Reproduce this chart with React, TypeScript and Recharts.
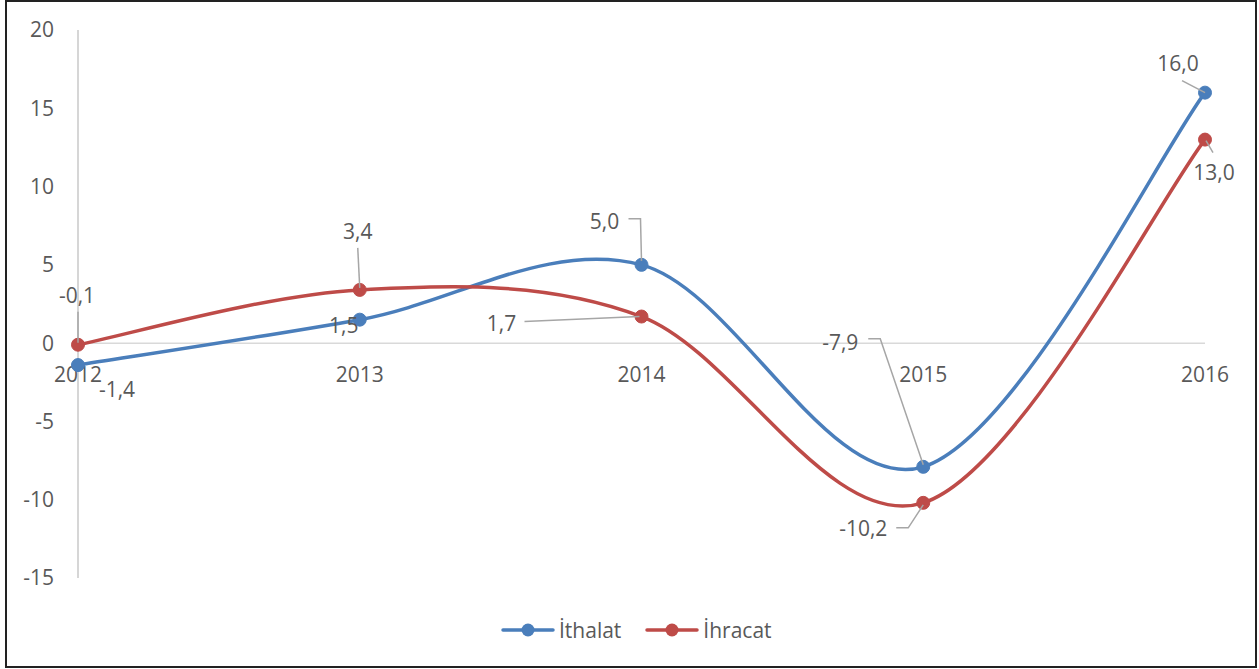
import React from 'react';
import { LineChart, Line, XAxis, YAxis, ReferenceLine, ReferenceDot, LabelList } from 'recharts';

const categories = ['2012', '2013', '2014', '2015', '2016'];
const ithalat = [-1.4, 1.5, 5.0, -7.9, 16.0];
const ihracat = [-0.1, 3.4, 1.7, -10.2, 13.0];
const yTicks = [-15, -10, -5, 0, 5, 10, 15, 20];
const seriesNames = ['İthalat', 'İhracat'];

const data = categories.map((c, i) => ({ cat: c, ithalat: ithalat[i], ihracat: ihracat[i] }));

const BLUE = '#4A7EBB';
const RED = '#BE4B48';
const TEXT = '#595959';
const FONT = '"Open Sans", sans-serif';
const FS = 21;

// label layout (offsets relative to the point), leader polyline points relative to the point
type LL = { dx: number; dy: number; leader?: number[][] };
const blueLabels: LL[] = [
  { dx: 39, dy: 24 },
  { dx: -16, dy: 5 },
  { dx: -37, dy: -44, leader: [[-13, -46], [-1, -46], [0, -4]] },
  { dx: -83, dy: -125, leader: [[-55, -128], [-43, -128], [0, -2]] },
  { dx: -27, dy: -30, leader: [[-23, -12], [0, 0]] },
];
const redLabels: LL[] = [
  { dx: -1, dy: -50, leader: [[0, -33], [0, -2]] },
  { dx: -2, dy: -59, leader: [[-2, -42], [0, -2]] },
  { dx: -140, dy: 6, leader: [[-117, 5], [-2, 0]] },
  { dx: -60, dy: 25, leader: [[-27, 25], [-15, 25], [0, 2]] },
  { dx: 9, dy: 32, leader: [[1, 1], [8, 13]] },
];

function catmullRom(context: any) {
  let pts: number[][] = [];
  return {
    areaStart() {},
    areaEnd() {},
    lineStart() {
      pts = [];
    },
    point(x: number, y: number) {
      pts.push([+x, +y]);
    },
    lineEnd() {
      const n = pts.length;
      if (!n) return;
      context.moveTo(pts[0][0], pts[0][1]);
      for (let i = 0; i < n - 1; i++) {
        const p0 = pts[Math.max(i - 1, 0)];
        const p1 = pts[i];
        const p2 = pts[i + 1];
        const p3 = pts[Math.min(i + 2, n - 1)];
        context.bezierCurveTo(
          p1[0] + (p2[0] - p0[0]) / 6,
          p1[1] + (p2[1] - p0[1]) / 6,
          p2[0] - (p3[0] - p1[0]) / 6,
          p2[1] - (p3[1] - p1[1]) / 6,
          p2[0],
          p2[1]
        );
      }
    },
  };
}

const fmt = (v: number) => v.toFixed(1).replace('.', ',');

function makeLabel(layout: LL[]) {
  return (props: any) => {
    const vb = props.viewBox || {};
    const x = props.x != null ? +props.x : +(vb.x + (vb.width || 0) / 2);
    const y = props.y != null ? +props.y : +(vb.y + (vb.height || 0) / 2);
    const idx = props.index;
    const l = layout[idx];
    if (!l || isNaN(x) || isNaN(y)) return null;
    const pts = l.leader ? l.leader.map((p) => `${x + p[0]},${y + p[1]}`).join(' ') : null;
    return (
      <g>
        {pts && <polyline points={pts} fill="none" stroke="#A6A6A6" strokeWidth={1.5} />}
        <text
          x={x + l.dx}
          y={y + l.dy}
          textAnchor="middle"
          dominantBaseline="central"
          fontFamily={FONT}
          fontSize={FS}
          fill={TEXT}
        >
          {fmt(+props.value)}
        </text>
      </g>
    );
  };
}

const catLabel = (name: string) => (props: any) => {
  const vb = props.viewBox || {};
  const cx = vb.x + (vb.width || 0) / 2;
  const cy = vb.y + (vb.height || 0) / 2;
  return (
    <text x={cx} y={cy + 31} textAnchor="middle" dominantBaseline="central" fontFamily={FONT} fontSize={FS} fill={TEXT}>
      {name}
    </text>
  );
};

function LegendItem({ color, name, first }: { color: string; name: string; first?: boolean }) {
  return (
    <div style={{ display: 'flex', alignItems: 'center', marginLeft: first ? 0 : 24 }}>
      <svg width={54} height={24} style={{ display: 'block' }}>
        <line x1={2} y1={12} x2={52} y2={12} stroke={color} strokeWidth={3.5} strokeLinecap="round" />
        <circle cx={27} cy={12} r={6.5} fill={color} />
      </svg>
      <span style={{ marginLeft: 4, fontFamily: FONT, fontSize: FS, color: TEXT, lineHeight: '24px' }}>{name}</span>
    </div>
  );
}

export default function App() {
  return (
    <div style={{ position: 'absolute', left: 0, top: 0, width: 1259, height: 669, background: '#fff' }}>
      <div
        style={{
          position: 'absolute',
          left: 5,
          top: 0,
          width: 1252,
          height: 668,
          border: '2px solid #222',
          boxSizing: 'border-box',
        }}
      />
      <div style={{ position: 'absolute', left: 0, top: 0 }}>
        <LineChart width={1259} height={669} data={data} margin={{ top: 30, right: 54, bottom: 91, left: 0 }}>
          <XAxis dataKey="cat" hide />
          <YAxis
            width={78}
            domain={[-15, 20]}
            ticks={yTicks}
            interval={0}
            tickLine={false}
            tickMargin={18}
            axisLine={{ stroke: '#C8C8C8', strokeWidth: 1.5 }}
            tick={{ fontFamily: FONT, fontSize: FS, fill: TEXT }}
          />
          <ReferenceLine y={0} stroke="#D9D9D9" strokeWidth={1.5} />
          {categories.map((c) => (
            <ReferenceDot key={c} x={c} y={0} r={1} fill="none" stroke="none" label={catLabel(c)} />
          ))}
          <Line
            dataKey="ithalat"
            name={seriesNames[0]}
            type={catmullRom as any}
            stroke={BLUE}
            strokeWidth={3.5}
            dot={{ r: 6.5, fill: BLUE, stroke: BLUE, strokeWidth: 1 }}
            activeDot={false}
            isAnimationActive={false}
          >
            <LabelList dataKey="ithalat" content={makeLabel(blueLabels)} />
          </Line>
          <Line
            dataKey="ihracat"
            name={seriesNames[1]}
            type={catmullRom as any}
            stroke={RED}
            strokeWidth={3.5}
            dot={{ r: 6.5, fill: RED, stroke: RED, strokeWidth: 1 }}
            activeDot={false}
            isAnimationActive={false}
          >
            <LabelList dataKey="ihracat" content={makeLabel(redLabels)} />
          </Line>
        </LineChart>
      </div>
      <div style={{ position: 'absolute', left: 501, top: 618, display: 'flex', alignItems: 'center' }}>
        <LegendItem color={BLUE} name={seriesNames[0]} first />
        <LegendItem color={RED} name={seriesNames[1]} />
      </div>
    </div>
  );
}
